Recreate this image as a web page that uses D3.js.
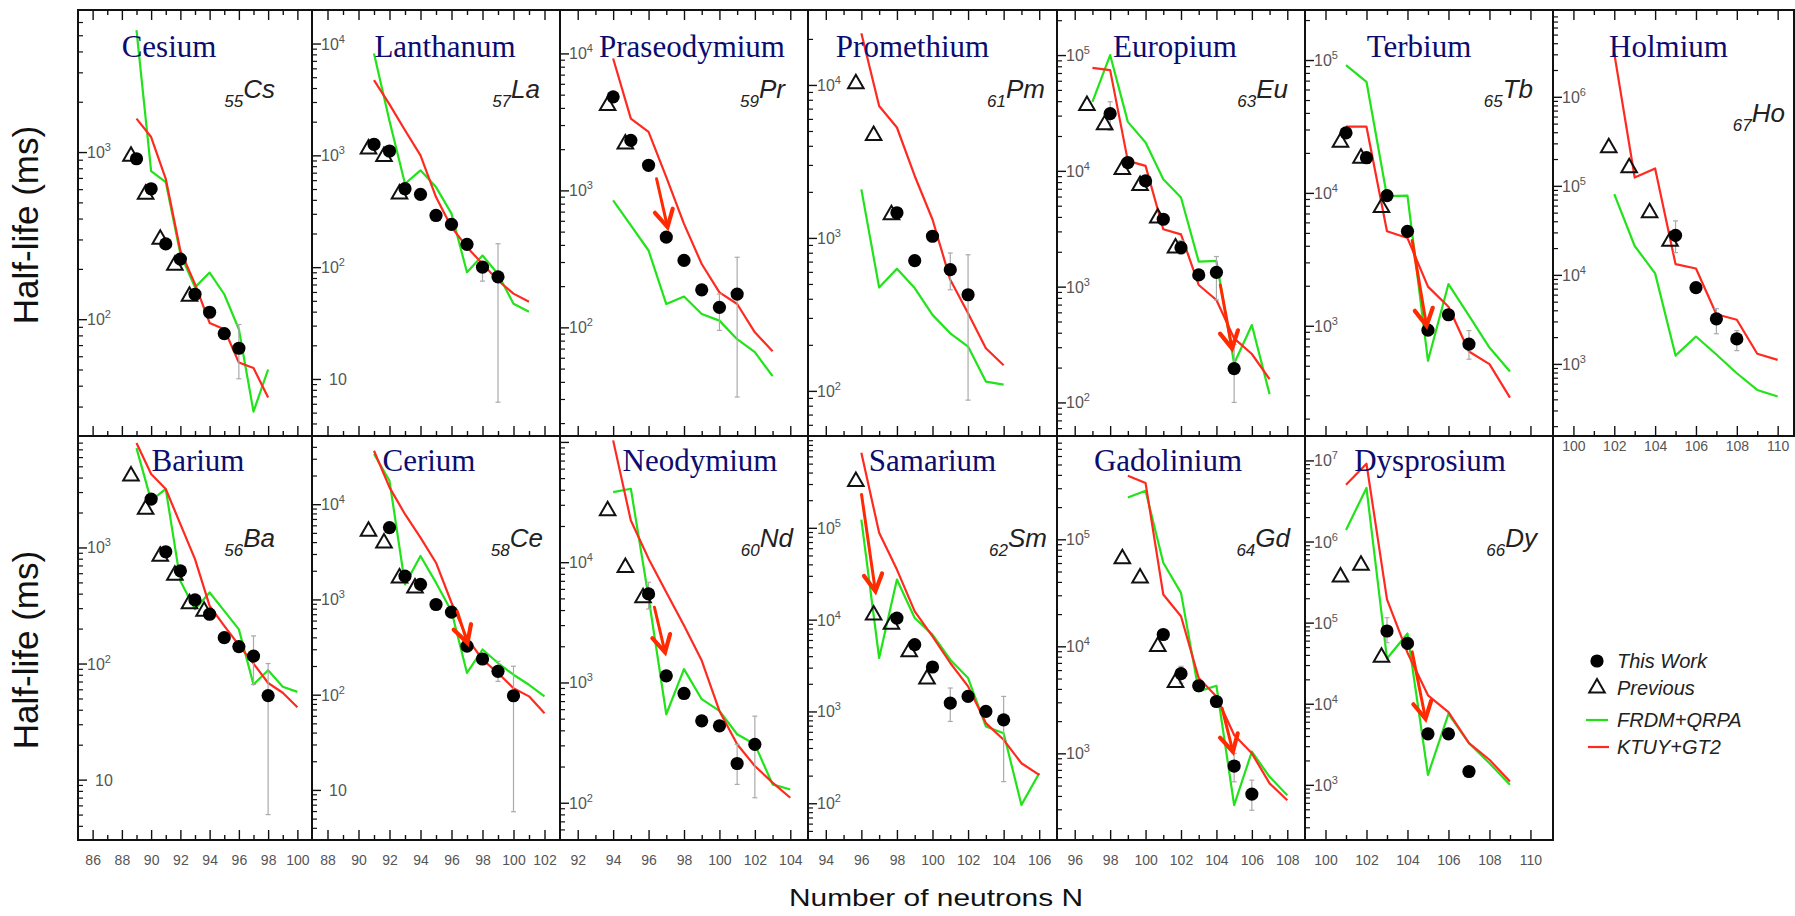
<!DOCTYPE html>
<html><head><meta charset="utf-8">
<script src="https://cdn.jsdelivr.net/npm/d3@7"></script>
<style>body{margin:0;background:#fff}svg{display:block}</style>
</head><body>
<svg id="chart" width="1795" height="916"></svg>
<script>
// ================= DATA (half-life in ms vs neutron number N) =================
const elements     = ['Cs','La','Pr','Pm','Eu','Tb','Ho','Ba','Ce','Nd','Sm','Gd','Dy'];
const elementNames = ['Cesium','Lanthanum','Praseodymium','Promethium','Europium','Terbium','Holmium',
                      'Barium','Cerium','Neodymium','Samarium','Gadolinium','Dysprosium'];
const protonZ      = [55,57,59,61,63,65,67,56,58,60,62,64,66];

// x (N) ranges per column, y (ms) ranges per element
const xDomains = [[85,101],[87,103],[91,105],[93,107],[95,109],[99,111.1],[99,110.8]];
const yDomains = {
  Cs:[20,7080], La:[3.09,19950], Pr:[16.1,20750], Pm:[50.7,30900], Eu:[51.3,245000], Tb:[148,238000], Ho:[155,9440000],
  Ba:[3.02,9120], Ce:[2.98,52000], Nd:[49,112000], Sm:[39.8,1000000], Gd:[155,923000], Dy:[209,20000000]
};

const Cs_work = [[89,912],[90,603],[91,282],[92,229],[93,141],[94,110],[95,82],[96,67]];
const Cs_prev = [[89,970],[90,575],[91,309],[92,216],[93,141]];
const Cs_frdm = [[89,5370],[90,769],[91,661],[92,245],[93,155],[94,190],[95,141],[96,87],[97,28],[98,50]];
const Cs_ktuy = [[89,1585],[90,1230],[91,692],[92,257],[93,162],[94,95],[95,87],[96,55],[97,51],[98,34]];
const Cs_err  = [[96,44,93]];

const La_work = [[91,1256],[92,1094],[93,503],[94,448],[95,290],[96,241],[97,160],[98,100],[99,82]];
const La_prev = [[91,1188],[92,1020],[93,470]];
const La_frdm = [[91,8130],[92,2030],[93,557],[94,735],[95,520],[96,301],[97,90],[98,127],[99,87],[100,47],[101,40]];
const La_ktuy = [[91,4700],[92,2860],[93,1675],[94,1000],[95,424],[96,228],[97,151],[98,107],[99,76],[100,58],[101,49]];
const La_err  = [[98,75,110],[99,6.2,162]];

const Pr_work = [[94,4820],[95,2320],[96,1525],[97,456],[98,308],[99,188],[100,140],[101,175]];
const Pr_prev = [[94,4300],[95,2260]];
const Pr_frdm = [[94,845],[95,555],[96,364],[97,148],[98,168],[99,125],[100,112],[101,82],[102,66],[103,44]];
const Pr_ktuy = [[94,9190],[95,3340],[96,2670],[97,1250],[98,570],[99,290],[100,180],[101,148],[102,92],[103,67]];
const Pr_err  = [[100,95,175],[101,31,325]];

const Pm_work = [[98,1460],[99,710],[100,1025],[101,620],[102,425]];
const Pm_prev = [[96,10500],[97,4820],[98,1460]];
const Pm_frdm = [[96,2075],[97,474],[98,629],[99,470],[100,314],[101,238],[102,195],[103,115],[104,110]];
const Pm_ktuy = [[96,21800],[97,7280],[98,5270],[99,2540],[100,1320],[101,532],[102,322],[103,190],[104,147]];
const Pm_err  = [[101,458,797],[102,87,776]];

const Eu_work = [[98,31200],[99,11800],[100,8190],[101,3820],[102,2170],[103,1262],[104,1330],[105,196]];
const Eu_prev = [[97,38200],[98,26000],[99,10700],[100,7760],[101,4080],[102,2245]];
const Eu_frdm = [[97,39500],[98,100000],[99,26500],[100,17600],[101,8470],[102,5880],[103,1645],[104,1667],[105,217],[106,466],[107,118]];
const Eu_ktuy = [[97,77600],[98,74100],[99,12200],[100,11050],[101,3130],[102,2830],[103,1033],[104,767],[105,357],[106,262],[107,159]];
const Eu_err  = [[98,22400,39500],[102,1900,2500],[104,767,1820],[105,100,316]];

const Tb_work = [[101,28300],[102,18400],[103,9550],[104,5140],[105,927],[106,1210],[107,728]];
const Tb_prev = [[101,24900],[102,18900],[103,8020]];
const Tb_frdm = [[101,91700],[102,68600],[103,9440],[104,9550],[105,545],[106,2060],[107,1190],[108,685],[109,452]];
const Tb_ktuy = [[101,31500],[102,31500],[103,5140],[104,4570],[105,1970],[106,1390],[107,640],[108,514],[109,288]];
const Tb_err  = [[107,560,920]];

const Ho_work = [[105,27800],[106,7190],[107,3210],[108,1910]];
const Ho_prev = [[102,282000],[103,168000],[104,52400],[105,25100]];
const Ho_frdm = [[102,80600],[103,21100],[104,10400],[105,1240],[106,2030],[107,1275],[108,785],[109,510],[110,430]];
const Ho_ktuy = [[102,3070000],[103,124000],[104,157000],[105,13200],[106,11800],[107,3610],[108,3130],[109,1300],[110,1110]];
const Ho_err  = [[105,17800,40400],[107,2180,4170],[108,1410,2370]];

const Ba_work = [[90,2610],[91,918],[92,629],[93,353],[94,266],[95,167],[96,140],[97,116],[98,53]];
const Ba_prev = [[89,4300],[90,2215],[91,875],[92,600],[93,340],[94,294]];
const Ba_frdm = [[89,7170],[90,2530],[91,3190],[92,515],[93,294],[94,409],[95,284],[96,197],[97,66],[98,87.5],[99,63],[100,57]];
const Ba_ktuy = [[89,7940],[90,4300],[91,3190],[92,1590],[93,794],[94,314],[95,211],[96,144],[97,100],[98,68],[99,56],[100,42]];
const Ba_err  = [[97,66,173],[98,5,100]];

const Ce_work = [[92,5680],[93,1760],[94,1440],[95,885],[96,735],[97,323],[98,237],[99,176],[100,97.5]];
const Ce_prev = [[91,5460],[92,4110],[93,1760],[94,1380]];
const Ce_frdm = [[91,33600],[92,17600],[93,1440],[94,2860],[95,1500],[96,753],[97,169],[98,298],[99,215],[100,162],[101,127],[102,96]];
const Ce_ktuy = [[91,36400],[92,15000],[93,7850],[94,4460],[95,2430],[96,923],[97,394],[98,233],[99,169],[100,117],[101,96],[102,64]];
const Ce_err  = [[99,138,224],[100,5.9,199]];

const Nd_work = [[96,5450],[97,1136],[98,810],[99,480],[100,436],[101,212],[102,306]];
const Nd_prev = [[94,27800],[95,9380],[96,5270]];
const Nd_frdm = [[94,38300],[95,40800],[96,5110],[97,544],[98,1290],[99,726],[100,580],[101,371],[102,306],[103,142],[104,129]];
const Nd_ktuy = [[94,103000],[95,22200],[96,10700],[97,5620],[98,2970],[99,1520],[100,580],[101,306],[102,202],[103,147],[104,110]];
const Nd_err  = [[96,4080,6810],[101,142,306],[102,110,525]];

const Sm_work = [[98,10400],[99,5340],[100,3050],[101,1233],[102,1458],[103,1000],[104,811]];
const Sm_prev = [[96,336000],[97,11800],[98,9350],[99,4710],[100,2370]];
const Sm_frdm = [[96,123000],[97,3820],[98,27300],[99,10400],[100,6860],[101,3660],[102,2310],[103,686],[104,580],[105,96],[106,212]];
const Sm_ktuy = [[96,658000],[97,88200],[98,35100],[99,12300],[100,6580],[101,3370],[102,1875],[103,747],[104,491],[105,273],[106,204]];
const Sm_err  = [[101,778,1800],[104,172,1458]];

const Gd_work = [[101,12900],[102,5550],[103,4280],[104,3050],[105,761],[106,416]];
const Gd_prev = [[99,68800],[100,45300],[101,10400],[102,4800]];
const Gd_frdm = [[99,246000],[100,284000],[101,60400],[102,31600],[103,3790],[104,4280],[105,328],[106,1037],[107,604],[108,406]];
const Gd_ktuy = [[99,393000],[100,335000],[101,30500],[102,19100],[103,5050],[104,3400],[105,1485],[106,1000],[107,524],[108,365]];
const Gd_err  = [[102,4530,6500],[105,542,1000],[106,294,562]];

const Dy_work = [[103,78900],[104,55500],[105,4260],[106,4260],[107,1462]];
const Dy_prev = [[101,387000],[102,540000],[103,39600]];
const Dy_frdm = [[101,1390000],[102,4570000],[103,36100],[104,73500],[105,1330],[106,7510],[107,3270],[108,1850],[109,1000]];
const Dy_ktuy = [[101,5020000],[102,9100000],[103,194000],[104,42600],[105,12700],[106,7880],[107,3270],[108,2040],[109,1100]];
const Dy_err  = [[103,56600,115000]];

// red annotation arrows: [element, N_from, T_from, N_to, T_to]
const arrows = [
  ['Pr',96.45,1217,97.07,540],
  ['Eu',104.22,1033,104.88,293],
  ['Tb',104.23,4385,104.93,1000],
  ['Ce',96.37,753,97.03,350],
  ['Nd',96.33,4220,96.93,1780],
  ['Sm',96.01,231000,96.79,20400],
  ['Gd',104.32,2640,104.93,1037],
  ['Dy',104.23,43600,104.88,6520]
];

const legendLabels = ['This Work','Previous','FRDM+QRPA','KTUY+GT2'];

const seriesData = {
  Cs:[Cs_work,Cs_prev,Cs_frdm,Cs_ktuy,Cs_err], La:[La_work,La_prev,La_frdm,La_ktuy,La_err],
  Pr:[Pr_work,Pr_prev,Pr_frdm,Pr_ktuy,Pr_err], Pm:[Pm_work,Pm_prev,Pm_frdm,Pm_ktuy,Pm_err],
  Eu:[Eu_work,Eu_prev,Eu_frdm,Eu_ktuy,Eu_err], Tb:[Tb_work,Tb_prev,Tb_frdm,Tb_ktuy,Tb_err],
  Ho:[Ho_work,Ho_prev,Ho_frdm,Ho_ktuy,Ho_err], Ba:[Ba_work,Ba_prev,Ba_frdm,Ba_ktuy,Ba_err],
  Ce:[Ce_work,Ce_prev,Ce_frdm,Ce_ktuy,Ce_err], Nd:[Nd_work,Nd_prev,Nd_frdm,Nd_ktuy,Nd_err],
  Sm:[Sm_work,Sm_prev,Sm_frdm,Sm_ktuy,Sm_err], Gd:[Gd_work,Gd_prev,Gd_frdm,Gd_ktuy,Gd_err],
  Dy:[Dy_work,Dy_prev,Dy_frdm,Dy_ktuy,Dy_err]
};

// ================= LAYOUT / STYLE =================
const colX = [78, 312, 560, 808, 1057, 1305, 1553, 1794];
const rowY = [[10, 436], [436, 840]];
const nameDx   = {Cs:-26,La:9,Pr:8,Pm:-20,Eu:-6,Tb:-10,Ho:-5,Ba:3,Ce:-7,Nd:16,Sm:0,Gd:-13,Dy:1};
const isoPad   = {Cs:37,La:20,Pr:23,Pm:12,Eu:17,Tb:20,Ho:9,Ba:37,Ce:17,Nd:15,Sm:10,Gd:15,Dy:16};
const GREEN = '#22e31a', RED = '#ff2a1f', ARROW = '#ff2a00', NAVY = '#0c0c6e';
const SANS = '"Liberation Sans", Arial, Helvetica, sans-serif';
const SERIF = '"Liberation Serif", "Times New Roman", serif';

const svg = d3.select('#chart');
const defs = svg.append('defs');

const supDigits = {'0':'\u2070','1':'\u00b9','2':'\u00b2','3':'\u00b3','4':'\u2074','5':'\u2075','6':'\u2076','7':'\u2077'};

elements.forEach((el, i) => {
  const row = i < 7 ? 0 : 1;
  const col = row === 0 ? i : i - 7;
  const x0 = colX[col], x1 = colX[col + 1];
  const [y0, y1] = rowY[row];
  const x = d3.scaleLinear().domain(xDomains[col]).range([x0, x1]);
  const y = d3.scaleLog().domain(yDomains[el]).range([y1, y0]);
  const [work, prev, frdm, ktuy, err] = seriesData[el];
  const g = svg.append('g').attr('class', 'panel-' + el);

  defs.append('clipPath').attr('id', 'clip-' + el)
    .append('rect').attr('x', x0).attr('y', y0).attr('width', x1 - x0).attr('height', y1 - y0);

  // ---- y axis ticks (log) ----
  const [lo, hi] = yDomains[el];
  const minor = [], major = [];
  for (let d = Math.floor(Math.log10(lo)); d <= Math.ceil(Math.log10(hi)); d++) {
    for (let k = 1; k <= 9; k++) {
      const v = k * Math.pow(10, d);
      if (v <= lo || v >= hi) continue;
      const py = y(v);
      if (py < y0 + 3 || py > y1 - 3) continue;
      (k === 1 ? major : minor).push(v);
    }
  }
  g.append('g').attr('transform', `translate(${x0},0)`)
    .call(d3.axisRight(y).tickValues(minor).tickSize(5).tickFormat(''))
    .call(a => a.select('.domain').remove())
    .call(a => a.selectAll('line').attr('stroke', '#111').attr('stroke-width', 1.2));
  g.append('g').attr('transform', `translate(${x0},0)`)
    .call(d3.axisRight(y).tickValues(major).tickSize(9).tickFormat(''))
    .call(a => a.select('.domain').remove())
    .call(a => a.selectAll('line').attr('stroke', '#111').attr('stroke-width', 1.4));
  major.forEach(v => {
    const py = y(v);
    if (py < y0 + 14) return;
    const e = Math.round(Math.log10(v));
    const t = g.append('text').attr('x', x0 + (e === 1 ? 17 : 9)).attr('y', py + 6)
      .attr('font-family', SANS).attr('font-size', 16).attr('fill', '#555');
    t.append('tspan').text('10');
    if (e !== 1) t.append('tspan').attr('font-size', 11).attr('dy', -7).text(String(e));
  });

  // ---- x ticks ----
  const [n0, n1] = xDomains[col];
  const ints = d3.range(Math.ceil(n0 + 0.3), Math.floor(n1 - 0.3) + 1);
  const evens = ints.filter(n => n % 2 === 0), odds = ints.filter(n => n % 2 !== 0);
  const tickStyle = a => { a.select('.domain').remove(); a.selectAll('line').attr('stroke', '#111').attr('stroke-width', 1.4); };
  g.append('g').attr('transform', `translate(0,${y1})`)
    .call(d3.axisTop(x).tickValues(evens).tickSize(10).tickFormat('')).call(tickStyle);
  g.append('g').attr('transform', `translate(0,${y1})`)
    .call(d3.axisTop(x).tickValues(odds).tickSize(5).tickFormat('')).call(tickStyle);
  if (row === 0) {
    g.append('g').attr('transform', `translate(0,${y0})`)
      .call(d3.axisBottom(x).tickValues(evens).tickSize(10).tickFormat('')).call(tickStyle);
    g.append('g').attr('transform', `translate(0,${y0})`)
      .call(d3.axisBottom(x).tickValues(odds).tickSize(5).tickFormat('')).call(tickStyle);
  }
  if (row === 1 || el === 'Ho') {
    g.append('g').attr('transform', `translate(0,${y1})`)
      .call(d3.axisBottom(x).tickValues(evens).tickSize(0).tickPadding(row === 1 ? 15 : 5).tickFormat(d3.format('d')))
      .call(a => a.select('.domain').remove())
      .call(a => a.selectAll('text').attr('font-family', SANS).attr('font-size', 14).attr('fill', '#555'));
  }

  // ---- data ----
  const plot = g.append('g').attr('clip-path', `url(#clip-${el})`);
  const line = d3.line().x(d => x(d[0])).y(d => y(d[1]));
  plot.append('path').datum(frdm).attr('d', line).attr('fill', 'none')
    .attr('stroke', GREEN).attr('stroke-width', 2.2).attr('stroke-linejoin', 'round');
  plot.append('path').datum(ktuy).attr('d', line).attr('fill', 'none')
    .attr('stroke', RED).attr('stroke-width', 2.2).attr('stroke-linejoin', 'round');

  err.forEach(e => {
    const ex = x(e[0]);
    plot.append('line').attr('x1', ex).attr('x2', ex).attr('y1', y(e[1])).attr('y2', y(e[2]))
      .attr('stroke', '#aaa').attr('stroke-width', 1.2);
    [e[1], e[2]].forEach(v => plot.append('line').attr('x1', ex - 2.5).attr('x2', ex + 2.5)
      .attr('y1', y(v)).attr('y2', y(v)).attr('stroke', '#aaa').attr('stroke-width', 1.2));
  });

  const tri = d3.symbol(d3.symbolTriangle, 105);
  plot.selectAll('path.prev').data(prev).enter().append('path').attr('class', 'prev')
    .attr('d', tri).attr('transform', d => `translate(${x(d[0]) - 5.5},${y(d[1]) + 2})`)
    .attr('fill', 'none').attr('stroke', '#111').attr('stroke-width', 2);

  plot.selectAll('circle.work').data(work).enter().append('circle').attr('class', 'work')
    .attr('cx', d => x(d[0])).attr('cy', d => y(d[1])).attr('r', 6.6).attr('fill', '#000');

  arrows.filter(a => a[0] === el).forEach(a => {
    const xs = x(a[1]), ys = y(a[2]), xe = x(a[3]), ye = y(a[4]);
    const ang = Math.atan2(ye - ys, xe - xs), L = 19, phi = 0.5;
    g.append('line').attr('x1', xs).attr('y1', ys).attr('x2', xe).attr('y2', ye)
      .attr('stroke', ARROW).attr('stroke-width', 3).attr('stroke-linecap', 'round');
    g.append('path')
      .attr('d', `M${xe - L * Math.cos(ang - phi)},${ye - L * Math.sin(ang - phi)}L${xe},${ye}L${xe - L * Math.cos(ang + phi)},${ye - L * Math.sin(ang + phi)}`)
      .attr('fill', 'none').attr('stroke', ARROW).attr('stroke-width', 4.2)
      .attr('stroke-linecap', 'round').attr('stroke-linejoin', 'miter');
  });

  // ---- labels ----
  g.append('text').attr('x', (x0 + x1) / 2 + nameDx[el]).attr('y', row === 0 ? 57 : 471)
    .attr('text-anchor', 'middle').attr('font-family', SERIF).attr('font-size', 31)
    .attr('fill', NAVY).text(elementNames[i]);
  const isoY = el === 'Ho' ? 122 : (row === 0 ? 98 : 547);
  const iso = g.append('text').attr('x', x1 - isoPad[el]).attr('y', isoY)
    .attr('text-anchor', 'end').attr('font-family', SANS).attr('font-style', 'italic').attr('fill', '#222');
  iso.append('tspan').attr('font-size', 17).attr('dy', 9).text(protonZ[i]);
  iso.append('tspan').attr('font-size', 26).attr('dy', -9).text(el);

  // ---- frame ----
  g.append('rect').attr('x', x0).attr('y', y0).attr('width', x1 - x0).attr('height', y1 - y0)
    .attr('fill', 'none').attr('stroke', '#111').attr('stroke-width', 2);
});

// ---- axis titles ----
[225, 650].forEach(cy => svg.append('text').attr('transform', `translate(38,${cy}) rotate(-90)`)
  .attr('text-anchor', 'middle').attr('font-family', SANS).attr('font-size', 35).attr('fill', '#111')
  .text('Half-life (ms)'));
svg.append('text').attr('transform', 'translate(936,906) scale(1.3,1)')
  .attr('text-anchor', 'middle').attr('font-family', SANS).attr('font-size', 23).attr('fill', '#111')
  .text('Number of neutrons N');

// ---- legend ----
const lg = svg.append('g').attr('font-family', SANS).attr('font-style', 'italic').attr('font-size', 20).attr('fill', '#222');
const legY = [661, 688, 720, 747];
lg.append('circle').attr('cx', 1597).attr('cy', legY[0]).attr('r', 6.6).attr('fill', '#000');
lg.append('path').attr('d', d3.symbol(d3.symbolTriangle, 105)).attr('transform', `translate(1597,${legY[1]})`)
  .attr('fill', 'none').attr('stroke', '#111').attr('stroke-width', 2);
lg.append('line').attr('x1', 1586).attr('x2', 1608).attr('y1', legY[2]).attr('y2', legY[2]).attr('stroke', GREEN).attr('stroke-width', 2.2);
lg.append('line').attr('x1', 1588).attr('x2', 1609).attr('y1', legY[3]).attr('y2', legY[3]).attr('stroke', RED).attr('stroke-width', 2.2);
legendLabels.forEach((t, k) => lg.append('text').attr('x', 1617).attr('y', legY[k] + 7).text(t));
</script>
</body></html>
